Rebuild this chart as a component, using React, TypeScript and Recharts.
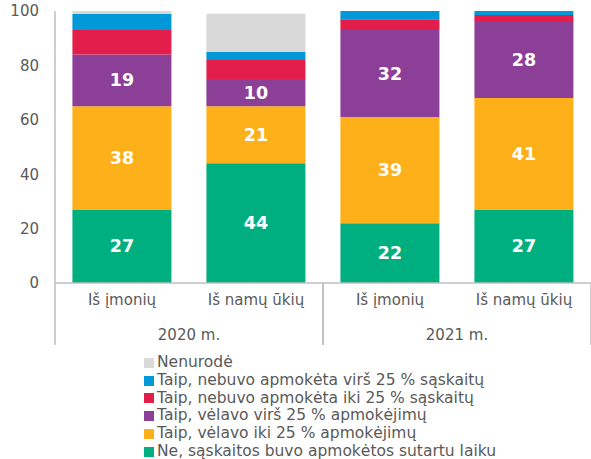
import { Bar, BarChart, LabelList, XAxis, YAxis } from 'recharts'

const categories = ['Iš įmonių', 'Iš namų ūkių', 'Iš įmonių', 'Iš namų ūkių']
const years = ['2020 m.', '2020 m.', '2021 m.', '2021 m.']

const onTime = [27, 44, 22, 27]
const lateUpTo25 = [38, 21, 39, 41]
const lateOver25 = [19, 10, 32, 28]
const unpaidUpTo25 = [9, 7, 4, 2.5]
const unpaidOver25 = [6, 3, 3, 1.5]
const notSpecified = [1, 14, 0, 0]

const yTicks = [0, 20, 40, 60, 80, 100]

const series = [
  { key: 'onTime', name: 'Ne, sąskaitos buvo apmokėtos sutartu laiku', color: '#00af7f', values: onTime, label: true },
  { key: 'lateUpTo25', name: 'Taip, vėlavo iki 25 % apmokėjimų', color: '#fdb019', values: lateUpTo25, label: true },
  { key: 'lateOver25', name: 'Taip, vėlavo virš 25 % apmokėjimų', color: '#8c3f97', values: lateOver25, label: true },
  { key: 'unpaidUpTo25', name: 'Taip, nebuvo apmokėta iki 25 % sąskaitų', color: '#e31e4b', values: unpaidUpTo25, label: false },
  { key: 'unpaidOver25', name: 'Taip, nebuvo apmokėta virš 25 % sąskaitų', color: '#0098d6', values: unpaidOver25, label: false },
  { key: 'notSpecified', name: 'Nenurodė', color: '#d9d9d9', values: notSpecified, label: false },
]

const data = categories.map((c, i) => {
  const row: Record<string, string | number> = { category: c, year: years[i] }
  for (const s of series) row[s.key] = s.values[i]
  return row
})

const FONT = '"DejaVu Sans", Verdana, sans-serif'
const W = 591
const H = 459
const PLOT_LEFT = 55
const PLOT_W = W - PLOT_LEFT
const groupCount = new Set(years).size

function CategoryTick(props: any) {
  const { x, y, payload } = props
  return (
    <text x={x} y={y + 22} textAnchor='middle' fill='#595959' fontSize={15} fontFamily={FONT}>
      {payload.value}
    </text>
  )
}

function YearTick(props: any) {
  const { x, y, payload } = props
  const half = PLOT_W / groupCount / 2
  return (
    <g>
      <line x1={x - half} x2={x - half} y1={y - 34} y2={y + 28} stroke='#bfbfbf' strokeWidth={1.5} />
      <line x1={x + half} x2={x + half} y1={y - 34} y2={y + 28} stroke='#bfbfbf' strokeWidth={1.5} />
      <text x={x} y={y + 23} textAnchor='middle' fill='#595959' fontSize={15} fontFamily={FONT}>
        {payload.value}
      </text>
    </g>
  )
}

function CenterLabel(props: any) {
  const { x, y, width, height, value } = props
  if (!value) return null
  return (
    <text
      x={x + width / 2}
      y={y + height / 2 + 6}
      textAnchor='middle'
      fill='#fff'
      fontSize={17.5}
      fontWeight='bold'
      fontFamily={FONT}
    >
      {value}
    </text>
  )
}

export default function App() {
  const legendItems = [...series].reverse()
  return (
    <div style={{ position: 'absolute', left: 0, top: 0, width: W, height: H, background: '#fff' }}>
      <BarChart
        width={W}
        height={H}
        data={data}
        margin={{ top: 11, right: 0, bottom: 106, left: 0 }}
        barCategoryGap='13%'
        style={{ fontFamily: FONT }}
      >
        <YAxis
          domain={[0, 100]}
          ticks={yTicks}
          width={PLOT_LEFT}
          tickLine={false}
          tickSize={0}
          tickMargin={16}
          axisLine={{ stroke: '#bfbfbf', strokeWidth: 1.5 }}
          tick={{ fill: '#595959', fontSize: 15, fontFamily: FONT }}
        />
        <XAxis
          dataKey='category'
          height={34}
          tickLine={false}
          tickSize={0}
          tickMargin={0}
          axisLine={{ stroke: '#bfbfbf', strokeWidth: 1.5 }}
          tick={<CategoryTick />}
          interval={0}
        />
        <XAxis
          xAxisId='year'
          dataKey='year'
          allowDuplicatedCategory={false}
          height={36}
          tickLine={false}
          tickSize={0}
          tickMargin={0}
          axisLine={false}
          tick={<YearTick />}
          interval={0}
        />
        {series.map((s) => (
          <Bar key={s.key} dataKey={s.key} name={s.name} stackId='a' fill={s.color} isAnimationActive={false}>
            {s.label && <LabelList dataKey={s.key} content={<CenterLabel />} />}
          </Bar>
        ))}
      </BarChart>
      <div
        style={{
          position: 'absolute',
          left: 144,
          top: 354,
          fontFamily: FONT,
          fontSize: 15.5,
          lineHeight: '17.8px',
          color: '#595959',
          whiteSpace: 'nowrap',
        }}
      >
        {legendItems.map((s) => (
          <div key={s.key} style={{ display: 'flex', alignItems: 'center' }}>
            <span style={{ display: 'inline-block', width: 10, height: 10, background: s.color, marginRight: 3 }} />
            <span>{s.name}</span>
          </div>
        ))}
      </div>
    </div>
  )
}
